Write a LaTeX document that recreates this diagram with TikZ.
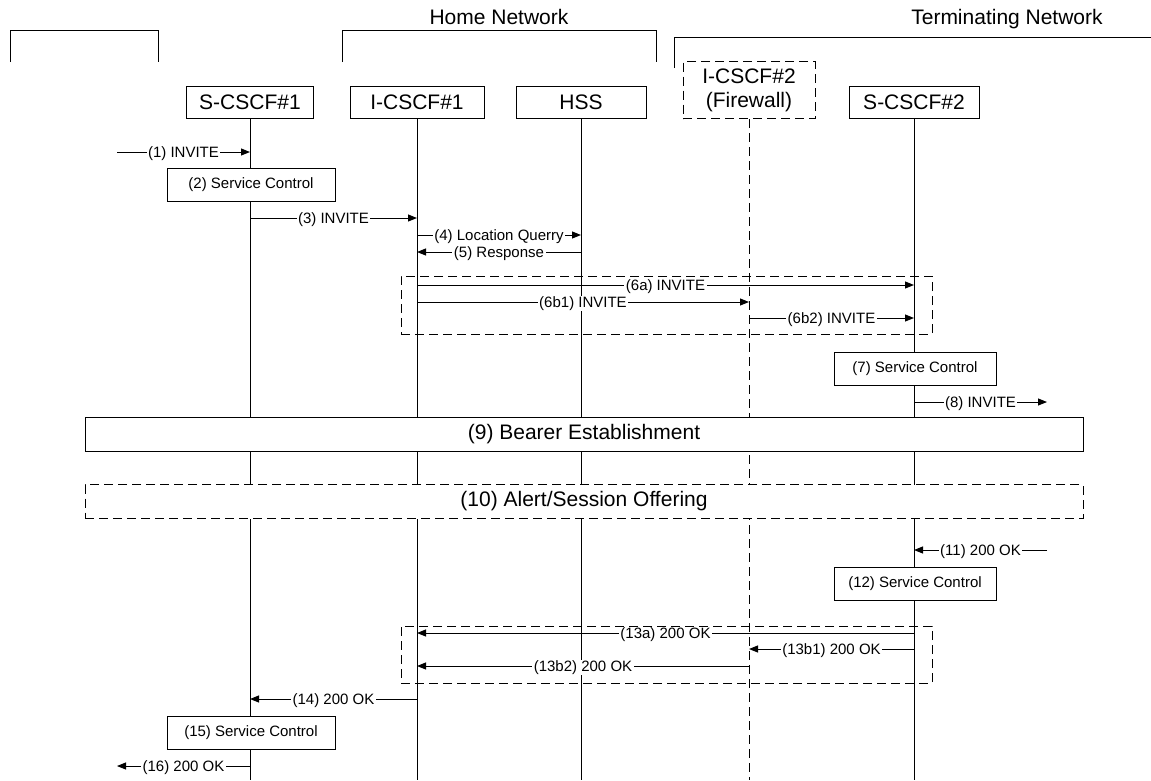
\documentclass[tikz,border=0pt]{standalone}
\usepackage{fontspec}
\setmainfont{Liberation Sans}
\usetikzlibrary{arrows.meta}
\begin{document}
\begin{tikzpicture}[x=1pt,y=-1pt,
  every node/.style={inner sep=0pt},
  big/.style={font=\fontsize{21}{24}\selectfont},
  small/.style={font=\fontsize{15}{15}\selectfont},
  entity/.style={big, draw, line width=1pt, fill=white, minimum height=32},
  dashedentity/.style={entity, dash pattern=on 9pt off 5pt, align=center},
  lifeline/.style={line width=1pt},
  dashedlifeline/.style={lifeline, dash pattern=on 9pt off 5pt},
  action/.style={small, draw, line width=1pt, fill=white, minimum height=33},
  phase/.style={big, draw, line width=1pt, fill=white, minimum height=34, minimum width=998},
  group/.style={draw, line width=1pt, dash pattern=on 9pt off 5pt},
  bracket/.style={line width=1pt},
  msg/.style={line width=1pt, -{Triangle[length=9pt,width=7pt]}},
  lbl/.style={small, fill=white, inner xsep=1.5pt, inner ysep=1pt, yshift=-1.5pt},
]
\useasboundingbox (0,0) rectangle (1151,780);

% network brackets and titles
\draw[bracket] (10,62) |- (158,30) -- (158,62);
\draw[bracket] (342,62) |- (656,30) -- (656,62);
\draw[bracket] (674,68) |- (1151,37);
\node[big] (homenet) at (499,17) {Home Network};
\node[big] (termnet) at (1007,19) {Terminating Network};

% lifeline heads
\node[entity, minimum width=127] (scscf1) at (250,102.5) {S-CSCF\#1};
\node[entity, minimum width=134] (icscf1) at (417,102.5) {I-CSCF\#1};
\node[entity, minimum width=130] (hss) at (581,102.5) {HSS};
\node[dashedentity, minimum width=132, minimum height=57] (icscf2) at (749,90) {I-CSCF\#2\\(Firewall)};
\node[entity, minimum width=130] (scscf2) at (914,102.5) {S-CSCF\#2};

% free ends of the outside messages
\coordinate (outl) at (117,0);
\coordinate (outr) at (1047,0);
\coordinate (bottom) at (0,780);

% lifelines
\draw[lifeline] (scscf1.south) -- (scscf1 |- bottom);
\draw[lifeline] (icscf1.south) -- (icscf1 |- bottom);
\draw[lifeline] (hss.south) -- (hss |- bottom);
\draw[dashedlifeline] (icscf2.south) -- (icscf2 |- bottom);
\draw[lifeline] (scscf2.south) -- (scscf2 |- bottom);

% parallel-alternative groups
\node[group, minimum width=531, minimum height=58] (alt6) at (666.5,305) {};
\node[group, minimum width=531, minimum height=57] (alt13) at (666.5,654.5) {};

% local actions
\node[action, minimum width=168] (sc2) at (251,185) {(2) Service Control};
\node[action, minimum width=162] (sc7) at (915,368.5) {(7) Service Control};
\node[phase] (bearer) at (584,434.5) {(9) Bearer Establishment};
\node[phase, dash pattern=on 9pt off 5pt] (alert) at (584,501.5) {(10) Alert/Session Offering};
\node[action, minimum width=162] (sc12) at (915,584) {(12) Service Control};
\node[action, minimum width=168] (sc15) at (251,732.5) {(15) Service Control};

% messages
\draw[msg] (outl |- 0,152) -- node[lbl] {(1) INVITE} (scscf1 |- 0,152);
\draw[msg] (scscf1 |- 0,218) -- node[lbl] {(3) INVITE} (icscf1 |- 0,218);
\draw[msg] (icscf1 |- 0,235) -- node[lbl] {(4) Location Querry} (hss |- 0,235);
\draw[msg] (hss |- 0,252) -- node[lbl] {(5) Response} (icscf1 |- 0,252);
\draw[msg] (icscf1 |- 0,285) -- node[lbl] {(6a) INVITE} (scscf2 |- 0,285);
\draw[msg] (icscf1 |- 0,302) -- node[lbl] {(6b1) INVITE} (icscf2 |- 0,302);
\draw[msg] (icscf2 |- 0,318) -- node[lbl] {(6b2) INVITE} (scscf2 |- 0,318);
\draw[msg] (scscf2 |- 0,402) -- node[lbl] {(8) INVITE} (outr |- 0,402);
\draw[msg] (outr |- 0,550) -- node[lbl] {(11) 200 OK} (scscf2 |- 0,550);
\draw[msg] (scscf2 |- 0,633) -- node[lbl] {(13a) 200 OK} (icscf1 |- 0,633);
\draw[msg] (scscf2 |- 0,649) -- node[lbl] {(13b1) 200 OK} (icscf2 |- 0,649);
\draw[msg] (icscf2 |- 0,666) -- node[lbl] {(13b2) 200 OK} (icscf1 |- 0,666);
\draw[msg] (icscf1 |- 0,699) -- node[lbl] {(14) 200 OK} (scscf1 |- 0,699);
\draw[msg] (scscf1 |- 0,766) -- node[lbl] {(16) 200 OK} (outl |- 0,766);
\end{tikzpicture}
\end{document}
